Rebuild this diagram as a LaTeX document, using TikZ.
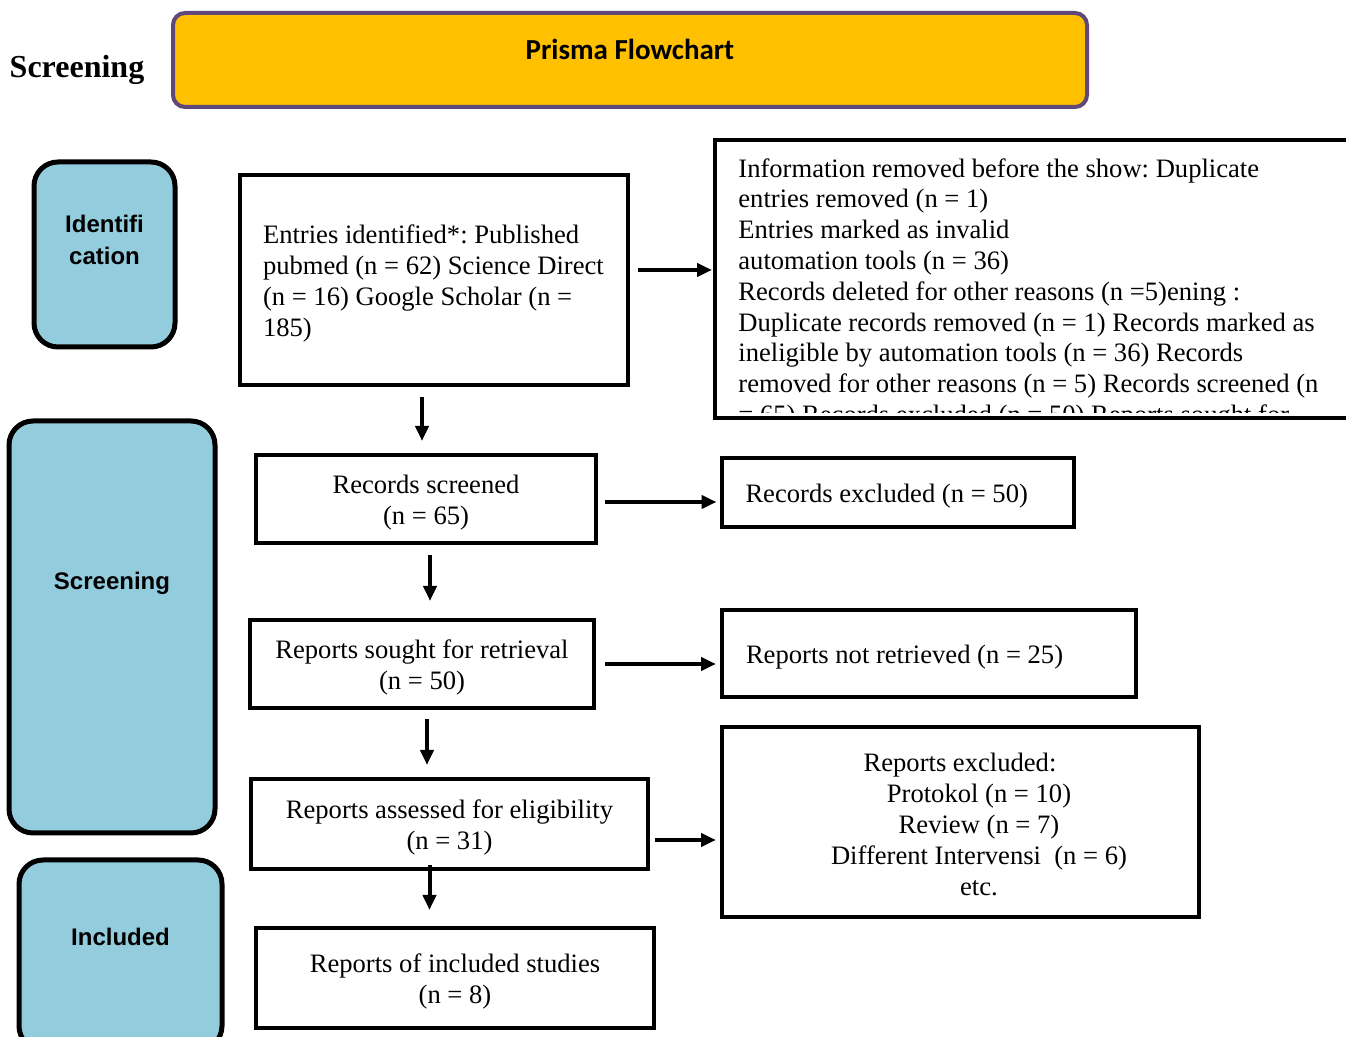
\documentclass[tikz,border=0pt]{standalone}
\usepackage{fontspec}
\setmainfont{Liberation Serif}
\newfontfamily\sidefont{Liberation Sans}
\newfontfamily\headfont{Carlito}
\usetikzlibrary{arrows.meta}
\definecolor{prismagold}{HTML}{FFC000}
\definecolor{prismapurple}{HTML}{5F497A}
\definecolor{phaseblue}{HTML}{93CDDD}
\frenchspacing
\tikzset{
  box/.style={draw,line width=2pt,fill=white,font=\fontsize{13.3}{15.5}\selectfont,
    execute at begin node=\rule{0pt}{13pt}},
  midbox/.style={box,text width=#1,align=flush center}}

\begin{document}
\begin{tikzpicture}[x=0.5pt,y=-0.5pt,
    phase/.style={draw,line width=2.5pt,fill=phaseblue,rounded corners=12pt},
    phasetext/.style={font=\sidefont\bfseries\fontsize{12}{16}\selectfont,align=center},
    arr/.style={-{Triangle[length=7.5pt,width=6.5pt]},line width=2pt}]
  \useasboundingbox (0,0) rectangle (1346,1037);
  % header
  \node[font=\bfseries\fontsize{16}{19}\selectfont] (stage) at (77,70) {Screening};
  \node[draw=prismapurple,line width=2pt,fill=prismagold,rounded corners=6pt,
    minimum width=457pt,minimum height=47pt] (header) at (630,60) {};
  \node[font=\headfont\bfseries\fontsize{14.5}{17}\selectfont] (headtext) at (630,49) {Prisma Flowchart};
  % phases
  \node[phase,minimum width=70.5pt,minimum height=92.5pt] (ident) at (104.5,254.5) {};
  \node[phasetext] (identtext) at (104.5,240) {Identifi\\cation};
  \node[phase,minimum width=103pt,minimum height=206pt] (screen) at (112,627) {};
  \node[phasetext] (screentext) at (112,583) {Screening};
  \node[phase,minimum width=101.5pt,minimum height=95pt] (incl) at (120.5,955) {};
  \node[phasetext] (incltext) at (120.5,937) {Included};
  % main boxes
  \node[box,text width=171pt,align=flush left,inner xsep=11.5pt,minimum height=105pt] (entries) at (434,280)
    {Entries identified*: Published\\ pubmed (n = 62) Science Direct\\ (n = 16) Google Scholar (n =\\ 185)};
  \node[box,minimum width=322.5pt,minimum height=139pt] (info) at (1037.5,279) {};
  \begin{scope}
    \clip (717,142) rectangle (1358,413);
    \node[anchor=north west,align=flush left,inner sep=0pt,font=\fontsize{13.3}{15.4}\selectfont] (infotext) at (738,158)
      {Information removed before the show: Duplicate\\
       entries removed (n = 1)\\
       Entries marked as invalid\\
       automation tools (n = 36)\\
       Records deleted for other reasons (n =5)ening :\\
       Duplicate records removed (n = 1) Records marked as\\
       ineligible by automation tools (n = 36) Records\\
       removed for other reasons (n = 5) Records screened (n\\
       = 65) Records excluded (n = 50) Reports sought for};
  \end{scope}
  \node[midbox=160pt,minimum width=170pt,minimum height=44pt] (screened) at (426,499) {Records screened\\(n = 65)};
  \node[box,text width=152pt,align=flush left,inner xsep=12pt,minimum height=34.5pt] (excluded) at (897.5,492.5) {Records excluded (n = 50)};
  \node[midbox=162pt,minimum width=172pt,minimum height=44pt] (sought) at (422,664) {Reports sought for retrieval\\(n = 50)};
  \node[box,text width=183pt,align=flush left,inner xsep=12pt,minimum height=43.5pt] (notret) at (929,653.5) {Reports not retrieved (n = 25)};
  \node[midbox=188pt,minimum width=198.5pt,minimum height=45pt] (assessed) at (449.5,824) {Reports assessed for eligibility\\(n = 31)};
  \node[box,minimum width=238.5pt,minimum height=95pt] (rexcl) at (960.5,822) {};
  \node[align=center,font=\fontsize{13.3}{15.4}\selectfont] (rexcltext) at (979,824.5)
    {Reports excluded:\hspace*{19pt}\\ Protokol (n = 10)\\ Review (n = 7)\\ Different Intervensi~ (n = 6)\\ etc.};
  \node[midbox=189pt,minimum width=199pt,minimum height=50pt] (included) at (455,978) {Reports of included studies\\(n = 8)};
  % arrows
  \draw[arr,shorten <=5pt,shorten >=6pt] ([xshift=-6pt]entries.south) -- ([xshift=-2pt]screened.north);
  \draw[arr,shorten <=4pt,shorten >=0.5pt] ([yshift=5pt]entries.east) -- ([yshift=5pt]entries.east -| info.west);
  \draw[arr,shorten <=3.5pt,shorten >=1.5pt] ([yshift=-1.5pt]screened.east) -- ([yshift=-1.5pt]screened.east -| excluded.west);
  \draw[arr,shorten <=5pt,shorten >=8.5pt] ([xshift=2pt]screened.south) -- ([xshift=2pt]screened.south |- sought.north);
  \draw[arr,shorten <=4.5pt,shorten >=2pt] (sought.east) -- (sought.east -| notret.west);
  \draw[arr,shorten <=4.5pt,shorten >=6pt] ([xshift=2.5pt]sought.south) -- ([xshift=2.5pt]sought.south |- assessed.north);
  \draw[arr,shorten <=2.5pt,shorten >=2pt] ([yshift=-8pt]assessed.east) -- ([yshift=-8pt]assessed.east -| rexcl.west);
  \draw[arr,shorten <=-3pt,shorten >=8pt] ([xshift=-10pt]assessed.south) -- ([xshift=-10pt]assessed.south |- included.north);
\end{tikzpicture}
\end{document}
